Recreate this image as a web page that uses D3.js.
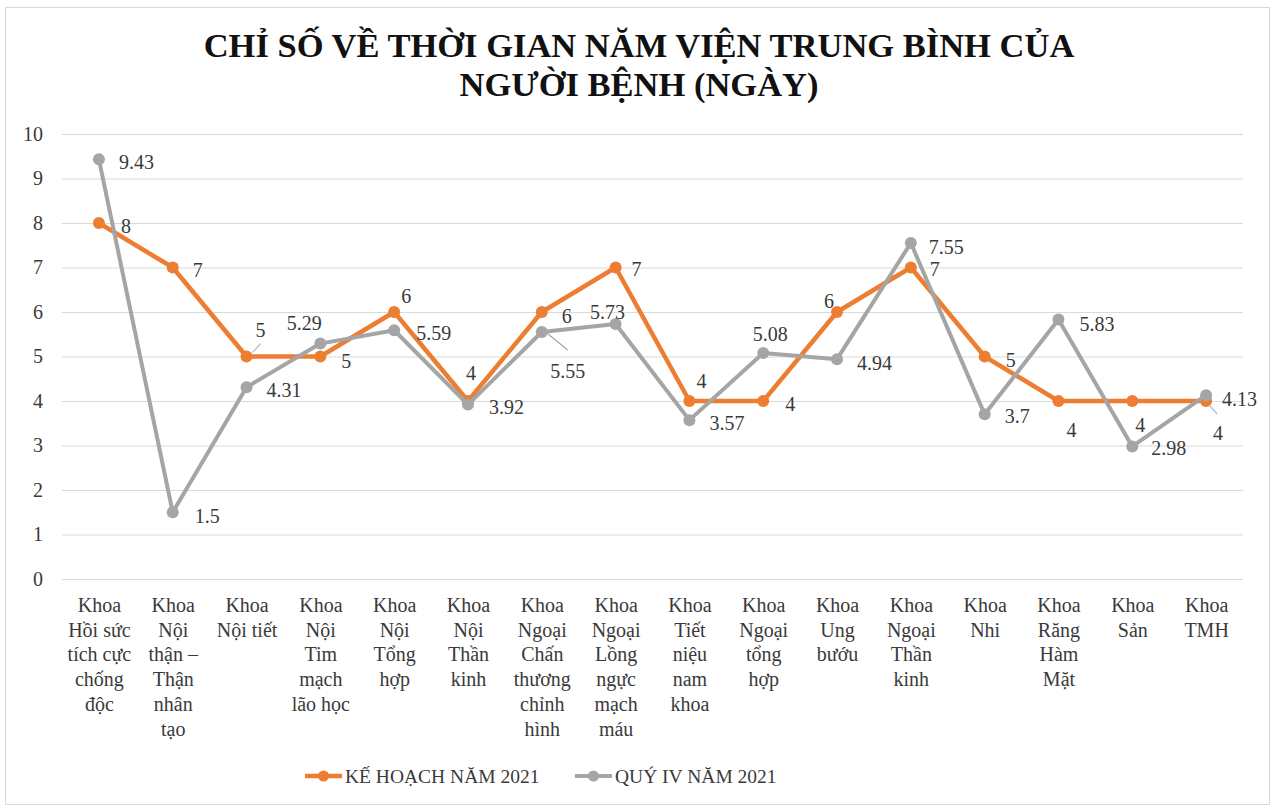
<!DOCTYPE html>
<html lang="vi">
<head>
<meta charset="utf-8">
<title>Chỉ số về thời gian nằm viện trung bình của người bệnh</title>
<script src="https://cdn.jsdelivr.net/npm/d3@7"></script>
<style>
  html, body { margin: 0; padding: 0; background: #fff; }
  svg { display: block; font-family: "Liberation Serif", "Times New Roman", serif; }
</style>
</head>
<body>
<svg id="chart" width="1280" height="811"></svg>
<script>
// Department names (line breaks as shown under the axis)
const categories = [
  "Khoa\nHồi sức\ntích cực\nchống\nđộc",
  "Khoa\nNội\nthận –\nThận\nnhân\ntạo",
  "Khoa\nNội tiết",
  "Khoa\nNội\nTim\nmạch\nlão học",
  "Khoa\nNội\nTổng\nhợp",
  "Khoa\nNội\nThần\nkinh",
  "Khoa\nNgoại\nChấn\nthương\nchỉnh\nhình",
  "Khoa\nNgoại\nLồng\nngực\nmạch\nmáu",
  "Khoa\nTiết\nniệu\nnam\nkhoa",
  "Khoa\nNgoại\ntổng\nhợp",
  "Khoa\nUng\nbướu",
  "Khoa\nNgoại\nThần\nkinh",
  "Khoa\nNhi",
  "Khoa\nRăng\nHàm\nMặt",
  "Khoa\nSản",
  "Khoa\nTMH"
];

// Average length of stay (days)
const planValues   = [8, 7, 5, 5, 6, 4, 6, 7, 4, 4, 6, 7, 5, 4, 4, 4];
const actualValues = [9.43, 1.5, 4.31, 5.29, 5.59, 3.92, 5.55, 5.73, 3.57, 5.08, 4.94, 7.55, 3.7, 5.83, 2.98, 4.13];

const seriesNames = ["KẾ HOẠCH NĂM 2021", "QUÝ IV NĂM 2021"];
const yTicks = [0, 1, 2, 3, 4, 5, 6, 7, 8, 9, 10];

// Data-label placement relative to each point: [dx, dy, anchor]
const planLabelPlace = [
  [27, 3, "middle"], [25, 2, "middle"], [14, -27, "middle"], [26, 4, "middle"],
  [12, -16, "middle"], [3, -28, "middle"], [25, 4, "middle"], [21, 1, "middle"],
  [12, -20, "middle"], [27, 3, "middle"], [-8, -11, "middle"], [24, 1, "middle"],
  [26, 3, "middle"], [13, 29, "middle"], [8, 24, "middle"], [12, 32, "middle"]
];
const actualLabelPlace = [
  [20, 3, "start"], [22, 4, "start"], [20, 3, "start"], [-16, -21, "middle"],
  [22, 3, "start"], [21, 2, "start"], [26, 39, "middle"], [-8, -12, "middle"],
  [20, 3, "start"], [7, -19, "middle"], [20, 4, "start"], [18, 4, "start"],
  [20, 2, "start"], [21, 4, "start"], [19, 2, "start"], [16, 4, "start"]
];
// Leader lines for labels pulled away from their points: [index, x1, y1, x2, y2] relative to the point
const planLeaders = [[2, 6, -4, 14, -13], [15, 3, 4, 11, 13]];
const actualLeaders = [[6, 5, 1, 26, 18]];

const colors = { plan: "#ED7D31", actual: "#A5A5A5", grid: "#D9D9D9", text: "#3a3a3a" };
const serif = "'Liberation Serif', 'Times New Roman', serif";

const svg = d3.select("#chart");

// outer frame
svg.append("rect")
  .attr("x", 5.5).attr("y", 7.5).attr("width", 1264).attr("height", 797)
  .attr("fill", "#fff").attr("stroke", "#D9D9D9").attr("stroke-width", 1);

// title
const title = svg.append("text")
  .attr("text-anchor", "middle").style("font-family", serif)
  .attr("font-size", 34.5).attr("font-weight", "bold").attr("fill", "#111");
title.append("tspan").attr("x", 639).attr("y", 57).text("CHỈ SỐ VỀ THỜI GIAN NĂM VIỆN TRUNG BÌNH CỦA");
title.append("tspan").attr("x", 639).attr("y", 96).text("NGƯỜI BỆNH (NGÀY)");

const plotLeft = 62, plotRight = 1243, plotTop = 134, plotBottom = 579;

const x = d3.scalePoint().domain(categories).range([plotLeft, plotRight]).padding(0.5);
const y = d3.scaleLinear().domain([0, 10]).range([plotBottom, plotTop]);

// y axis with gridlines
const yAxis = svg.append("g")
  .attr("transform", `translate(${plotLeft},0)`)
  .call(d3.axisLeft(y).tickValues(yTicks).tickFormat(d3.format("d"))
    .tickSize(-(plotRight - plotLeft)).tickPadding(19));
yAxis.select(".domain").remove();
yAxis.selectAll(".tick line").attr("stroke", colors.grid).attr("stroke-width", 1);
yAxis.selectAll(".tick text")
  .attr("font-size", 20).attr("fill", colors.text).style("font-family", serif);

// x axis with multi-line category labels
const xAxis = svg.append("g")
  .attr("transform", `translate(0,${plotBottom})`)
  .call(d3.axisBottom(x).tickSize(0).tickFormat(""));
xAxis.select(".domain").remove();
xAxis.selectAll(".tick").each(function (d) {
  const t = d3.select(this).append("text")
    .attr("text-anchor", "middle").attr("font-size", 20).attr("fill", colors.text)
    .style("font-family", serif);
  d.split("\n").forEach((line, i) => {
    t.append("tspan").attr("x", 0).attr("y", 33 + i * 24.7).text(line);
  });
});

const line = d3.line().x((d, i) => x(categories[i])).y(d => y(d));

function drawSeries(values, color, width, r) {
  const g = svg.append("g");
  g.append("path").datum(values)
    .attr("d", line).attr("fill", "none")
    .attr("stroke", color).attr("stroke-width", width)
    .attr("stroke-linejoin", "round").attr("stroke-linecap", "round");
  g.selectAll("circle").data(values).join("circle")
    .attr("cx", (d, i) => x(categories[i])).attr("cy", d => y(d))
    .attr("r", r).attr("fill", color);
  return g;
}

function drawLabels(values, place, leaders, leaderColor) {
  const g = svg.append("g").style("font-family", serif);
  leaders.forEach(([i, x1, y1, x2, y2]) => {
    const px = x(categories[i]), py = y(values[i]);
    g.append("line")
      .attr("x1", px + x1).attr("y1", py + y1).attr("x2", px + x2).attr("y2", py + y2)
      .attr("stroke", leaderColor).attr("stroke-width", 1.2);
  });
  g.selectAll("text").data(values).join("text")
    .attr("x", (d, i) => x(categories[i]) + place[i][0])
    .attr("y", (d, i) => y(d) + place[i][1])
    .attr("dy", "0.35em")
    .attr("text-anchor", (d, i) => place[i][2])
    .attr("font-size", 20).attr("fill", colors.text)
    .text(d => d);
}

drawSeries(planValues, colors.plan, 4.5, 6);
drawSeries(actualValues, colors.actual, 4, 6);
drawLabels(planValues, planLabelPlace, planLeaders, "#9DC3E6");
drawLabels(actualValues, actualLabelPlace, actualLeaders, "#A6A6A6");

// legend
const legend = svg.append("g").attr("transform", "translate(0,776)").style("font-family", serif);
const legendItems = [
  { name: seriesNames[0], color: colors.plan, x0: 305, w: 4.5 },
  { name: seriesNames[1], color: colors.actual, x0: 575, w: 4 }
];
legendItems.forEach(it => {
  legend.append("line")
    .attr("x1", it.x0).attr("x2", it.x0 + 37).attr("y1", 0).attr("y2", 0)
    .attr("stroke", it.color).attr("stroke-width", it.w);
  legend.append("circle").attr("cx", it.x0 + 18.5).attr("cy", 0).attr("r", 5.5).attr("fill", it.color);
  legend.append("text")
    .attr("x", it.x0 + 40).attr("y", 0).attr("dy", "0.35em")
    .attr("font-size", 19.5).attr("fill", colors.text)
    .text(it.name);
});
</script>
</body>
</html>
